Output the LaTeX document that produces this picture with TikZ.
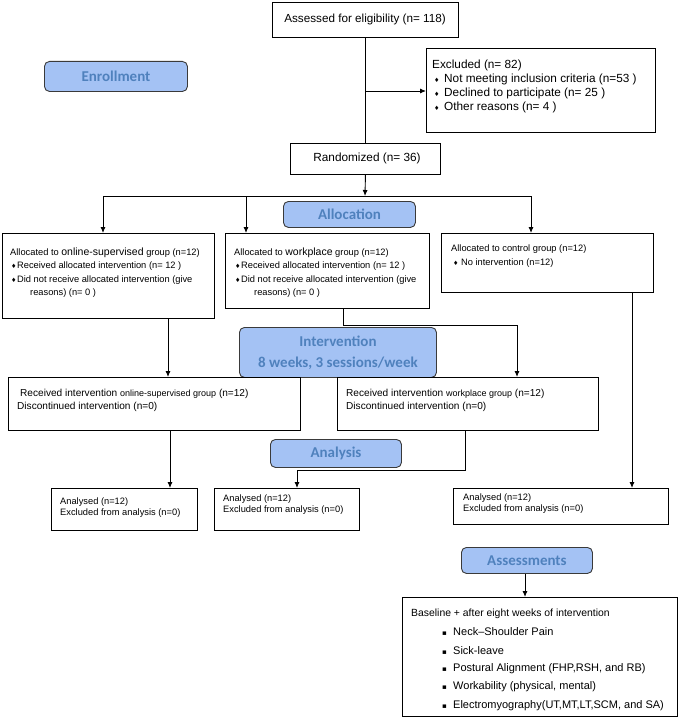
\documentclass[tikz,border=0pt]{standalone}
\usepackage{fontspec}
\setmainfont{Liberation Sans}
\newfontfamily\lblfont{Carlito}
\newfontfamily\symfont{DejaVu Sans}
\usetikzlibrary{arrows.meta}
\definecolor{lblfill}{HTML}{A4C2F4}
\definecolor{lbltext}{HTML}{4F81BD}
\definecolor{lblborder}{HTML}{3A3A3A}
\newcommand\dbul{{\symfont\fontsize{6}{6}\selectfont ♦}}
\newcommand\sbul{{\symfont\fontsize{7}{7}\selectfont ▪}}
\tikzset{
 box/.style={draw=black, line width=0.9pt, inner sep=0pt, anchor=north west, rectangle},
 lbl/.style={draw=lblborder, fill=lblfill, line width=0.9pt, rounded corners=5pt, inner sep=0pt, anchor=north west, text=lbltext, font=\lblfont\bfseries\fontsize{15}{21}\selectfont, align=center},
 txt/.style={inner sep=0pt, anchor=west, text=black},
 exfont/.style={font=\fontsize{11.8}{14}\selectfont},
 reg/.style={font=\fontsize{9.3}{11}\selectfont},
 rcfont/.style={font=\fontsize{10.1}{12}\selectfont},
 anfont/.style={font=\fontsize{9.3}{11}\selectfont},
 bsfont/.style={font=\fontsize{10.4}{12}\selectfont},
 itfont/.style={font=\fontsize{11}{13}\selectfont},
 conn/.style={line width=0.9pt, black},
 arr/.style={conn, -{Latex[length=6pt,width=5pt]}},
}
\begin{document}
\begin{tikzpicture}[x=1pt,y=-1pt]
\useasboundingbox (0,0) rectangle (678,717);
\fill[white] (0,0) rectangle (678,717);

% boxes
\node[box, minimum width=186pt, minimum height=35pt] (assess) at (272,2) {};
\node[txt, anchor=center, font=\fontsize{11.7}{14}\selectfont] (assessT) at (365,19) {Assessed for eligibility (n= 118)};

\node[lbl, minimum width=143pt, minimum height=30pt] (enroll) at (44,61) {Enrollment};

\node[box, minimum width=229pt, minimum height=84pt] (excl) at (426,48) {};
\node[txt, exfont] (ex0) at (432,65) {Excluded (n= 82)};
\node[txt, exfont] (ex1) at (434,79) {\makebox[10pt][l]{\dbul}Not meeting inclusion criteria (n=53 )};
\node[txt, exfont] (ex2) at (434,93) {\makebox[10pt][l]{\dbul}Declined to participate (n= 25 )};
\node[txt, exfont] (ex3) at (434,107) {\makebox[10pt][l]{\dbul}Other reasons (n= 4 )};

\node[box, minimum width=150pt, minimum height=31pt] (rand) at (290,143) {};
\node[txt, anchor=center, exfont] (randT) at (367,158) {Randomized (n= 36)};

\node[lbl, minimum width=132pt, minimum height=26pt] (alloc) at (283,201) {Allocation};

\node[box, minimum width=212pt, minimum height=85pt] (onl) at (2,233) {};
\node[txt, reg] (on0) at (10,253) {Allocated to {\fontsize{10.5}{12}\selectfont online-supervised} group (n=12)};
\node[txt, reg] (on1) at (11,266) {\makebox[6pt][l]{\dbul}Received allocated intervention (n= 12 )};
\node[txt, reg] (on2) at (11,280) {\makebox[6pt][l]{\dbul}Did not receive allocated intervention (give};
\node[txt, reg] (on3) at (30,293) {reasons) (n= 0 )};

\node[box, minimum width=204pt, minimum height=75pt] (wrk) at (225,233) {};
\node[txt, reg] (wk0) at (234,253) {Allocated to {\fontsize{10.5}{12}\selectfont workplace} group (n=12)};
\node[txt, reg] (wk1) at (235,266) {\makebox[6pt][l]{\dbul}Received allocated intervention (n= 12 )};
\node[txt, reg] (wk2) at (235,280) {\makebox[6pt][l]{\dbul}Did not receive allocated intervention (give};
\node[txt, reg] (wk3) at (254,293) {reasons) (n= 0 )};

\node[box, minimum width=212pt, minimum height=59pt] (ctl) at (441,233) {};
\node[txt, font=\fontsize{9.3}{11}\selectfont] (ct0) at (451,249) {Allocated to control group (n=12)};
\node[txt, font=\fontsize{9.3}{11}\selectfont] (ct1) at (453,263) {\makebox[8pt][l]{\dbul}No intervention (n=12)};

\node[lbl, minimum width=197pt, minimum height=50pt] (interv) at (239,327) {Intervention\\8 weeks, 3 sessions/week};

\node[box, minimum width=292pt, minimum height=53pt] (recon) at (8,377) {};
\node[txt, rcfont] (ro0) at (20,394) {Received intervention {\fontsize{9}{11}\selectfont online-supervised group} (n=12)};
\node[txt, rcfont] (ro1) at (17,407) {Discontinued intervention (n=0)};

\node[box, minimum width=261pt, minimum height=53pt] (recwk) at (337,377) {};
\node[txt, rcfont] (rw0) at (346,394) {Received intervention {\fontsize{9}{11}\selectfont workplace group} (n=12)};
\node[txt, rcfont] (rw1) at (346,407) {Discontinued intervention (n=0)};

\node[lbl, minimum width=131pt, minimum height=28pt] (anal) at (270,439) {Analysis};

\node[box, minimum width=146pt, minimum height=42pt] (an1) at (51,488) {};
\node[txt, anfont] (a10) at (60,502) {Analysed (n=12)};
\node[txt, anfont] (a11) at (60,513) {Excluded from analysis (n=0)};

\node[box, minimum width=145pt, minimum height=42pt] (an2) at (214,488) {};
\node[txt, anfont] (a20) at (223,499) {Analysed (n=12)};
\node[txt, anfont] (a21) at (223,510) {Excluded from analysis (n=0)};

\node[box, minimum width=215pt, minimum height=36pt] (an3) at (453,488) {};
\node[txt, anfont] (a30) at (463,498) {Analysed (n=12)};
\node[txt, anfont] (a31) at (463,509) {Excluded from analysis (n=0)};

\node[lbl, minimum width=131pt, minimum height=26pt] (asmt) at (461,547) {Assessments};

\node[box, minimum width=275pt, minimum height=119pt] (base) at (402,597) {};
\node[txt, bsfont] (b0) at (411,614) {Baseline + after eight weeks of intervention};
\node[txt, itfont] (b1) at (442,632) {\makebox[11pt][l]{\sbul}Neck–Shoulder Pain};
\node[txt, itfont] (b2) at (442,651) {\makebox[11pt][l]{\sbul}Sick-leave};
\node[txt, itfont] (b3) at (442,669) {\makebox[11pt][l]{\sbul}Postural Alignment (FHP,RSH, and RB)};
\node[txt, itfont] (b4) at (442,687) {\makebox[11pt][l]{\sbul}Workability (physical, mental)};
\node[txt, itfont] (b5) at (442,706) {\makebox[11pt][l]{\sbul}Electromyography(UT,MT,LT,SCM, and SA)};

% connectors
\draw[conn] (assess.south) -- (rand.north);
\coordinate (j1) at (365,91);
\draw[arr] (j1) -- (j1 -| excl.west);
\coordinate (h0) at (365,196);
\draw[arr] (rand.south) -- (h0);
\coordinate (hL) at (103,196);
\coordinate (hM) at (246,196);
\coordinate (hR) at (531,196);
\draw[conn] (hL) -- (hR);
\draw[arr] (hL) -- (hL |- onl.north);
\draw[arr] (hM) -- (hM |- wrk.north);
\draw[arr] (hR) -- (hR |- ctl.north);
\coordinate (v1) at (168,0);
\draw[arr] (onl.south -| v1) -- (recon.north -| v1);
\coordinate (w1) at (343,325);
\coordinate (w2) at (517,325);
\draw[arr] (wrk.south -| w1) -- (w1) -- (w2) -- (recwk.north -| w2);
\coordinate (v2) at (632,0);
\draw[arr] (ctl.south -| v2) -- (an3.north -| v2);
\coordinate (v3) at (170,0);
\draw[arr] (recon.south -| v3) -- (an1.north -| v3);
\coordinate (r1) at (465,470);
\coordinate (r2) at (297,470);
\draw[arr] (recwk.south -| r1) -- (r1) -- (r2) -- (an2.north -| r2);
\coordinate (v4) at (525,0);
\draw[arr] (asmt.south -| v4) -- (base.north -| v4);
\end{tikzpicture}
\end{document}
